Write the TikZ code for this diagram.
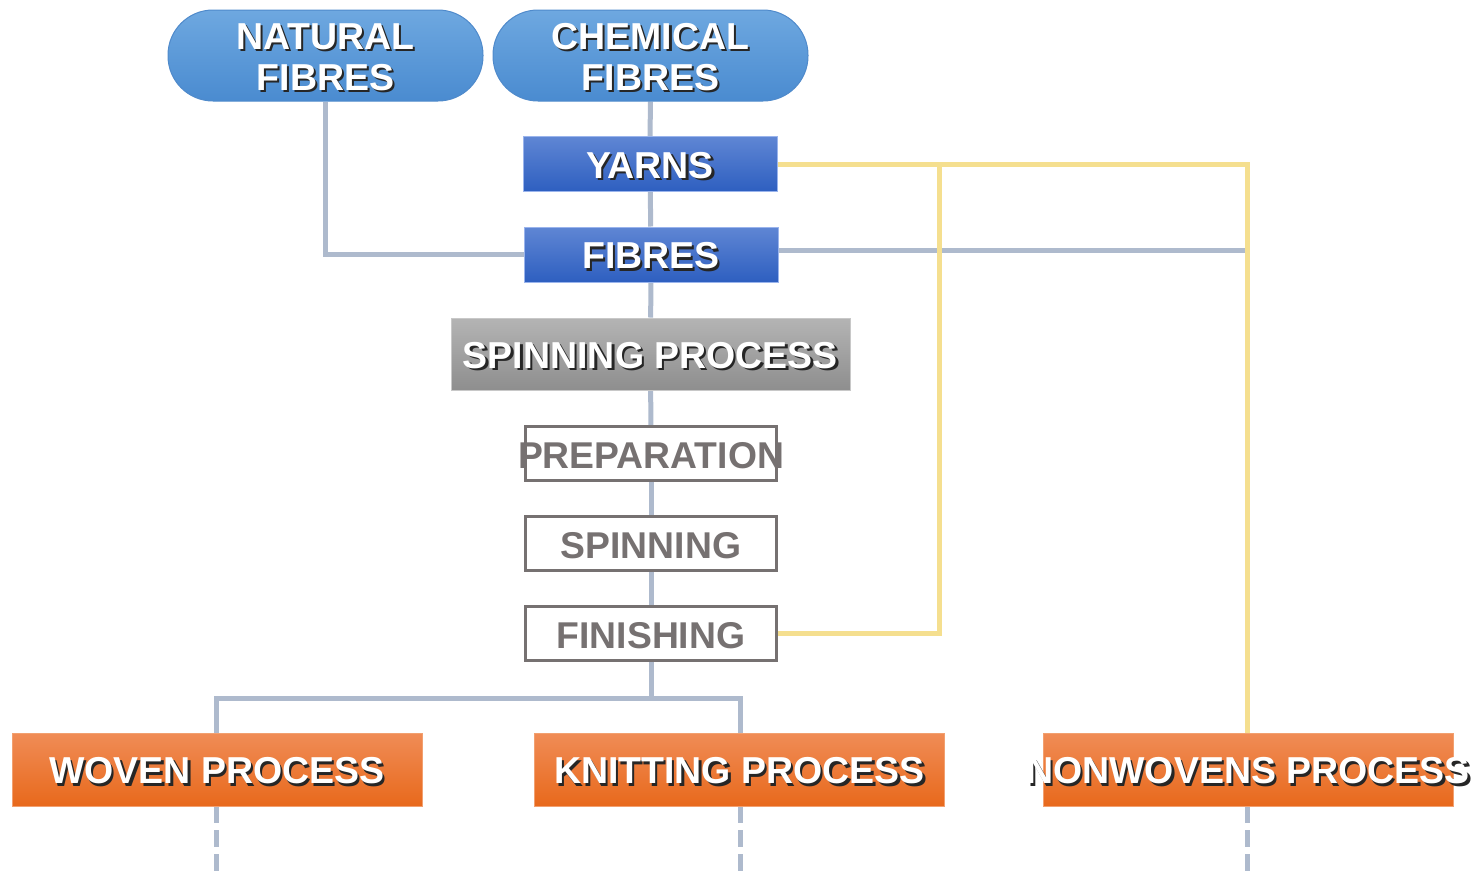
\documentclass[tikz,border=0pt]{standalone}
\usepackage{fontspec}
\setmainfont{Liberation Sans}
\usetikzlibrary{backgrounds}
\definecolor{linegray}{HTML}{AEBACD}
\definecolor{lineyel}{HTML}{F5DF8F}
\definecolor{boxgray}{HTML}{767171}
\definecolor{pilltop}{HTML}{6EA8E0}
\definecolor{pillbot}{HTML}{4A8BD0}
\definecolor{pillline}{HTML}{4F8ACB}
\definecolor{bluetop}{HTML}{5F86D4}
\definecolor{bluebot}{HTML}{2E5FC0}
\definecolor{blueline}{HTML}{9AB4EC}
\definecolor{graytop}{HTML}{B4B4B4}
\definecolor{graybot}{HTML}{8E8E8E}
\definecolor{grayline}{HTML}{C8C8C8}
\definecolor{orangetop}{HTML}{F08C56}
\definecolor{orangebot}{HTML}{E8691C}
\definecolor{orangeline}{HTML}{F2A070}
\newcommand\shd[1]{\leavevmode\rlap{\raisebox{-2.2pt}{\kern2.2pt\textcolor{black!85}{#1}}}\textcolor{white}{#1}}
\tikzset{
  pill/.style={rectangle, rounded corners=45pt, minimum width=315pt, minimum height=91pt,
    top color=pilltop, bottom color=pillbot, draw=pillline, line width=1pt, inner sep=0pt},
  bluebox/.style={rectangle, minimum width=254pt, minimum height=55pt,
    top color=bluetop, bottom color=bluebot, draw=blueline, line width=1pt, inner sep=0pt},
  graybox/.style={rectangle, minimum width=399pt, minimum height=72pt,
    top color=graytop, bottom color=graybot, draw=grayline, line width=1pt, inner sep=0pt},
  stagebox/.style={rectangle, minimum width=251pt, minimum height=54pt, fill=white,
    draw=boxgray, line width=3pt, inner sep=0pt},
  orangebox/.style={rectangle, minimum width=410pt, minimum height=73pt,
    top color=orangetop, bottom color=orangebot, draw=orangeline, line width=1pt, inner sep=0pt},
  wtext/.style={font=\bfseries\fontsize{37.5}{41}\selectfont, align=center, inner sep=0pt, yshift=-2.5pt},
  gtext/.style={font=\bfseries\fontsize{37.3}{41}\selectfont, text=boxgray, inner sep=0pt, yshift=-2.5pt},
  conn/.style={draw=linegray, line width=5pt},
  yconn/.style={draw=lineyel, line width=5pt},
  dconn/.style={draw=linegray, line width=5pt, dash pattern=on 17pt off 7pt},
}
\begin{document}
\begin{tikzpicture}[x=1pt,y=-1pt]
\useasboundingbox (0,0) rectangle (1475,876);
% nodes
\node[pill] (nat) at (325.5,55.5) {};
\node[wtext] (natt) at (nat.center) {\shd{NATURAL}\\\shd{FIBRES}};
\node[pill] (chem) at (650.5,55.5) {};
\node[wtext] (chemt) at (chem.center) {\shd{CHEMICAL}\\\shd{FIBRES}};
\node[bluebox] (yarn) at (650,164) {};
\node[wtext] (yarnt) at (yarn.center) {\shd{YARNS}};
\node[bluebox] (fib) at (651,254.5) {};
\node[wtext] (fibt) at (fib.center) {\shd{FIBRES}};
\node[graybox] (sp) at (650.5,354) {};
\node[wtext] (spt) at (sp.center) {\shd{SPINNING PROCESS}};
\node[stagebox] (prep) at (651,453.5) {};
\node[gtext] (prept) at (prep.center) {PREPARATION};
\node[stagebox] (spin) at (651,543.5) {};
\node[gtext] (spint) at (spin.center) {SPINNING};
\node[stagebox] (fin) at (651,633.5) {};
\node[gtext] (fint) at (fin.center) {FINISHING};
\node[orangebox] (wov) at (217,769.5) {};
\node[wtext] (wovt) at (wov.center) {\shd{WOVEN PROCESS}};
\node[orangebox] (knit) at (739.5,769.5) {};
\node[wtext] (knitt) at (knit.center) {\shd{KNITTING PROCESS}};
\node[orangebox] (nonw) at (1248,769.5) {};
\node[wtext] (nonwt) at (nonw.center) {\shd{NONWOVENS PROCESS}};
% coordinates
\coordinate (jn) at (651,698);
\coordinate (fend) at (1247,250);
\coordinate (yj) at (939,164);
\coordinate (wd) at (216,876);
\coordinate (kd) at (740,876);
\coordinate (nd) at (1247,876);
\begin{pgfonlayer}{background}
\draw[conn] (nat.south) |- (fib.west);
\draw[conn] (chem.south) -- (yarn.north);
\draw[conn] (yarn) -- (fib);
\draw[conn] (fib) -- (sp);
\draw[conn] (sp) -- (prep);
\draw[conn] (prep) -- (spin);
\draw[conn] (spin) -- (fin);
\draw[conn] (fin) -- (jn);
\draw[conn] (216,733) |- (jn) -| (740,733);
\draw[conn] (fib.east |- fend) -- (fend);
\draw[yconn] (yarn.east) -| (1247,733);
\draw[yconn] (fin.east) -| (yj);
\draw[dconn] (216,806) -- (wd);
\draw[dconn] (740,806) -- (kd);
\draw[dconn] (1247,806) -- (nd);
\end{pgfonlayer}
\end{tikzpicture}
\end{document}
